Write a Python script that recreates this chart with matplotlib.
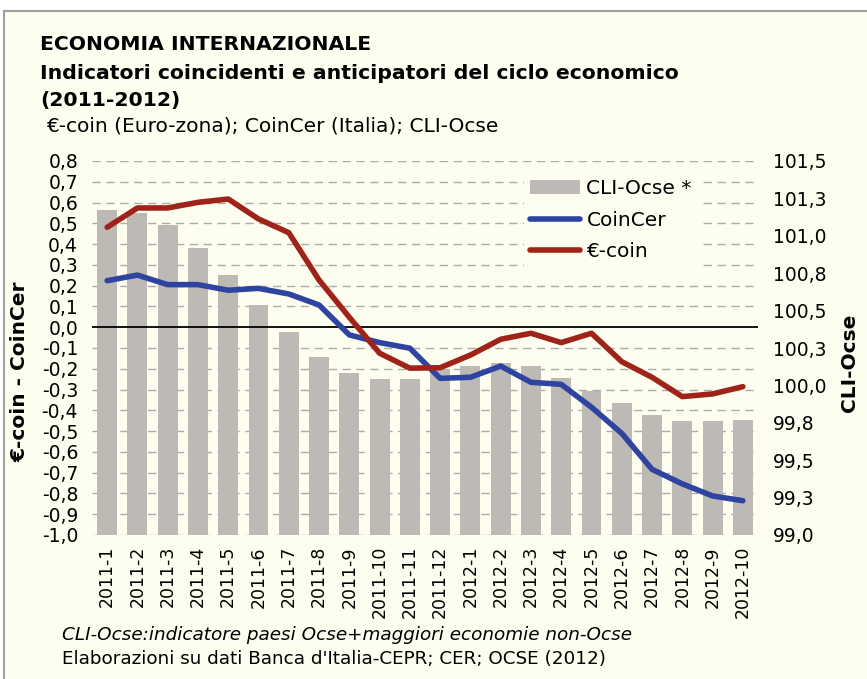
import matplotlib
matplotlib.use("Agg")
import matplotlib.pyplot as plt
from matplotlib.patches import Rectangle, Patch
from matplotlib.lines import Line2D
import numpy as np

months = ["2011-1", "2011-2", "2011-3", "2011-4", "2011-5", "2011-6", "2011-7", "2011-8",
          "2011-9", "2011-10", "2011-11", "2011-12", "2012-1", "2012-2", "2012-3", "2012-4",
          "2012-5", "2012-6", "2012-7", "2012-8", "2012-9", "2012-10"]
cli_ocse = [101.17, 101.15, 101.07, 100.92, 100.74, 100.54, 100.36, 100.19,
            100.08, 100.04, 100.04, 100.11, 100.13, 100.15, 100.13, 100.05,
            99.96, 99.88, 99.80, 99.76, 99.76, 99.77]
coincer = [0.224, 0.251, 0.205, 0.205, 0.178, 0.187, 0.160, 0.107,
           -0.037, -0.074, -0.101, -0.246, -0.241, -0.187, -0.265, -0.275,
           -0.385, -0.511, -0.684, -0.754, -0.812, -0.835]
ecoin = [0.481, 0.574, 0.574, 0.601, 0.617, 0.521, 0.455, 0.227,
         0.048, -0.125, -0.197, -0.195, -0.134, -0.058, -0.029, -0.074,
         -0.029, -0.166, -0.241, -0.334, -0.321, -0.286]
left_ticks = [round(-1.0 + 0.1 * i, 1) for i in range(19)]
right_ticks = [99.0, 99.25, 99.5, 99.75, 100.0, 100.25, 100.5, 100.75, 101.0, 101.25, 101.5]
right_labels = ["99,0", "99,3", "99,5", "99,8", "100,0", "100,3", "100,5", "100,8",
                "101,0", "101,3", "101,5"]

BG = "#FEFEF0"
BAR = "#BDBAB5"
BLUE = "#2F43A0"
RED = "#A0231A"
GRID = "#ABABAB"

W, H = 867, 679
fig = plt.figure(figsize=(W / 100, H / 100), dpi=100)
fig.patch.set_facecolor("white")
fig.patches.append(Rectangle((4 / W, -0.01), 1, 1.01 - 11 / H, transform=fig.transFigure,
                             facecolor=BG, edgecolor="#A0A0A0", linewidth=1.5, zorder=-10))

left, right, top, bottom = 92, 758, 161, 535
rect = [left / W, 1 - bottom / H, (right - left) / W, (bottom - top) / H]
ax2 = fig.add_axes(rect, zorder=1)  # bars, right axis (behind)
ax = fig.add_axes(rect, sharex=ax2, zorder=2)  # lines, left axis (on top)
ax.patch.set_visible(False)
ax2.set_facecolor(BG)

x = np.arange(len(months))
ax.set_ylim(-1.0, 0.8)
ax2.set_ylim(99.0, 101.5)
ax2.set_xlim(-0.5, len(months) - 0.5)

# gridlines (left-axis units), drawn behind bars
for v in left_ticks:
    if abs(v) > 1e-9:
        ax2.plot([0, 1], [v, v], transform=ax.get_yaxis_transform(), color=GRID,
                 lw=1.0, ls=(0, (6, 4)), zorder=0.5)

ax2.bar(x, np.array(cli_ocse) - 99.0, bottom=99.0, width=0.66, color=BAR, zorder=2)

ax.axhline(0, color="black", lw=1.3, zorder=2)
ax.plot(x, coincer, color=BLUE, lw=4, solid_capstyle="round", solid_joinstyle="round", zorder=3)
ax.plot(x, ecoin, color=RED, lw=4, solid_capstyle="round", solid_joinstyle="round", zorder=3)

# left axis
ax.set_yticks(left_ticks)
ax.set_yticklabels([f"{v:.1f}".replace(".", ",") for v in left_ticks])
ax.yaxis.tick_left()
ax.tick_params(axis="y", length=0, pad=10, labelsize=13.5)
ax.tick_params(axis="x", bottom=False, labelbottom=False)
# right axis
ax2.yaxis.tick_right()
ax2.set_yticks(right_ticks)
ax2.set_yticklabels(right_labels)
ax2.tick_params(axis="y", length=0, pad=11, labelsize=13.5)
ax2.set_xticks(x)
ax2.set_xticklabels(months, rotation=90, fontsize=12.5)
ax2.tick_params(axis="x", length=0, pad=8)
for a in (ax, ax2):
    for s in a.spines.values():
        s.set_visible(False)

# legend
handles = [Patch(facecolor=BAR, edgecolor="none"),
           Line2D([], [], color=BLUE, lw=4, solid_capstyle="round"),
           Line2D([], [], color=RED, lw=4, solid_capstyle="round")]
leg = ax.legend(handles, ["CLI-Ocse *", "CoinCer", "€-coin"], loc="upper left",
                bbox_to_anchor=(514 / W, 1 - 163 / H), bbox_transform=fig.transFigure,
                fontsize=14.5, frameon=True, facecolor=BG, edgecolor="none", framealpha=1,
                handlelength=2.5, handletextpad=0.3, labelspacing=0.62, borderpad=0.3,
                fancybox=False)
leg.set_zorder(5)

# axis titles
fig.text(20 / W, 1 - 372 / H, "€-coin - CoinCer", rotation=90, ha="center", va="center",
         fontsize=14.5, fontweight="bold")
fig.text(850 / W, 1 - 363 / H, "CLI-Ocse", rotation=90, ha="center", va="center",
         fontsize=14.5, fontweight="bold")

# titles
fig.text(40 / W, 1 - 50 / H, "ECONOMIA INTERNAZIONALE", fontsize=14.7, fontweight="bold",
         va="baseline")
fig.text(40 / W, 1 - 79 / H, "Indicatori coincidenti e anticipatori del ciclo economico",
         fontsize=14.7, fontweight="bold", va="baseline")
fig.text(40 / W, 1 - 106 / H, "(2011-2012)", fontsize=14.7, fontweight="bold", va="baseline")
fig.text(46 / W, 1 - 131 / H, "€-coin (Euro-zona); CoinCer (Italia); CLI-Ocse", fontsize=14.5,
         va="baseline")

# footnotes
fig.text(62 / W, 1 - 640 / H, "CLI-Ocse:indicatore paesi Ocse+maggiori economie non-Ocse",
         fontsize=13.2, fontstyle="italic", va="baseline")
fig.text(62 / W, 1 - 664 / H, "Elaborazioni su dati Banca d'Italia-CEPR; CER; OCSE (2012)",
         fontsize=13.2, va="baseline")

fig.savefig("out.png", dpi=100, facecolor=fig.get_facecolor())
